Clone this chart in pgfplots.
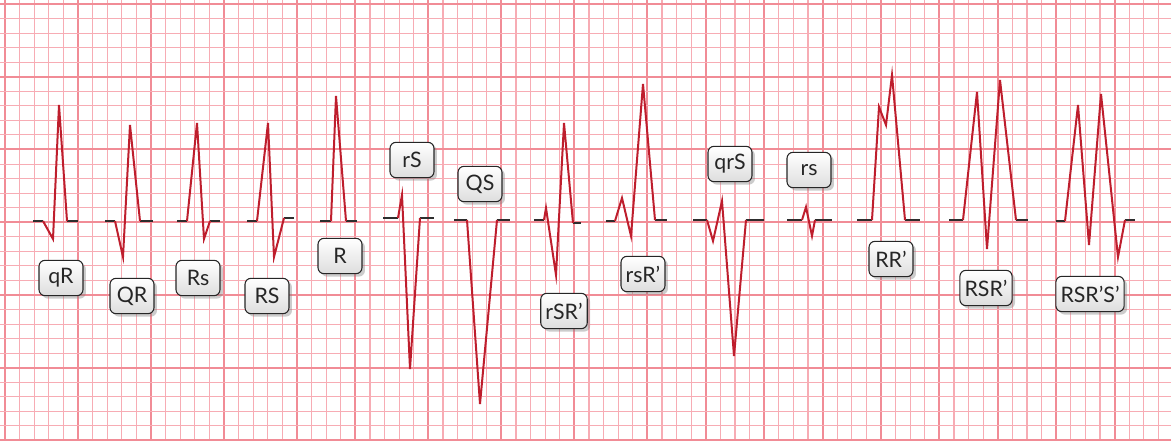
\documentclass[border=0pt]{standalone}
\usepackage{pgfplots}
\pgfplotsset{compat=1.18}
\usepackage{fontspec}
\setmainfont{Lato}
\usetikzlibrary{shadows}

\definecolor{gridmaj}{RGB}{241,140,150}
\definecolor{gridmin}{RGB}{247,172,180}
\definecolor{ecg}{RGB}{190,30,45}
\definecolor{flat}{RGB}{45,45,45}

\tikzset{lbl/.style={draw=black!85, line width=0.8pt, rounded corners=4.5pt,
  top color=white, bottom color=black!13, text=black!85,
  minimum width=33pt, minimum height=26.5pt, inner xsep=3.5pt,
  font=\fontsize{16}{18}\selectfont,
  drop shadow={opacity=0.4, shadow xshift=2.2pt, shadow yshift=-2.2pt}}}

\begin{document}
\begin{tikzpicture}
\begin{axis}[
    scale only axis, width=878.25pt, height=330.75pt,
    xmin=0, xmax=1171, ymin=0, ymax=441, y dir=reverse,
    axis line style={draw=none},
    xtick={5,78,151,224,297,355.4,428.4,501.4,574.4,647.4,705.8,764.2,822.6,881,939.4,997.8,1056.2,1114.6},
    minor xtick={5,19.6,...,1161},
    ytick={4,76.75,149.5,222.25,295,367.75,440.5},
    minor ytick={4,18.55,...,441},
    xticklabels={}, yticklabels={},
    major tick length=0pt, minor tick length=0pt,
    grid=both,
    minor grid style={gridmin, line width=0.8pt},
    major grid style={gridmaj, line width=1.5pt},
    unbounded coords=jump]

% flat baseline pieces before and after each complex
\addplot[flat, line width=1.6pt] coordinates {
    (33,221) (43,221) (43,nan) (67,221) (78,221) (78,nan)
    (105,221) (115,221) (115,nan) (140,221) (153,221) (153,nan)
    (177,221) (187,221) (187,nan) (210,221) (220,221) (220,nan)
    (247,221) (257,221) (257,nan) (284,218) (294,218) (294,nan)
    (320,221) (331,221) (331,nan) (346,221) (357,221) (357,nan)
    (383,218) (398,218) (398,nan) (420,218) (434,218) (434,nan)
    (454,220) (467,220) (467,nan) (497,220) (510,220) (510,nan)
    (534,220) (544,220) (544,nan) (573,223) (581,223) (581,nan)
    (606,221) (615,221) (615,nan) (655,220) (667,220) (667,nan)
    (693,220) (707,220) (707,nan) (746,220) (764,220) (764,nan)
    (787,220) (802,220) (802,nan) (815,220) (832,220) (832,nan)
    (857,220) (872,220) (872,nan) (905,220) (920,220) (920,nan)
    (949,220) (963,220) (963,nan) (1016,220) (1028,220) (1028,nan)
    (1056,221) (1065,221) (1065,nan) (1125,220) (1135,220)
};

% QRS complexes
\addplot[ecg, line width=1.5pt] coordinates {
    (43,221) (53,239) (59,105) (67,221) (67,nan)
    (115,221) (123,257) (130,125) (140,221) (140,nan)
    (187,221) (197,123) (204,239) (210,221) (210,nan)
    (257,221) (268,123) (274,257) (284,218) (284,nan)
    (331,221) (336,96) (346,221) (346,nan)
    (398,218) (402,195) (410,369) (420,218) (420,nan)
    (467,220) (480,404) (497,220) (497,nan)
    (544,220) (546,208) (556,275) (564,123) (573,223) (573,nan)
    (615,221) (622,198) (631,236) (643,84) (655,220) (655,nan)
    (707,220) (713,241) (722,201) (734,356) (746,220) (746,nan)
    (802,220) (806,207) (812,236) (815,220) (815,nan)
    (872,220) (879,107) (886,125) (892,75) (905,220) (905,nan)
    (963,220) (977,92) (987,249) (1000,80) (1016,220) (1016,nan)
    (1065,221) (1078,105) (1089,245) (1101,94) (1118,257) (1125,220)
};

\node[lbl] at (axis cs:61,278) {qR};
\node[lbl] at (axis cs:132,296) {QR};
\node[lbl] at (axis cs:198,278) {Rs};
\node[lbl] at (axis cs:267,296) {RS};
\node[lbl] at (axis cs:340,256) {R};
\node[lbl] at (axis cs:412,160) {rS};
\node[lbl] at (axis cs:480,184) {QS};
\node[lbl] at (axis cs:564,311) {rSR’};
\node[lbl] at (axis cs:643,274) {rsR’};
\node[lbl] at (axis cs:730,164) {qrS};
\node[lbl] at (axis cs:809,170) {rs};
\node[lbl] at (axis cs:891,259) {RR’};
\node[lbl] at (axis cs:986,288) {RSR’};
\node[lbl] at (axis cs:1090,294) {RSR’S’};
\end{axis}
\pgfresetboundingbox
\useasboundingbox (current axis.south west) rectangle (current axis.north east);
\end{tikzpicture}
\end{document}
